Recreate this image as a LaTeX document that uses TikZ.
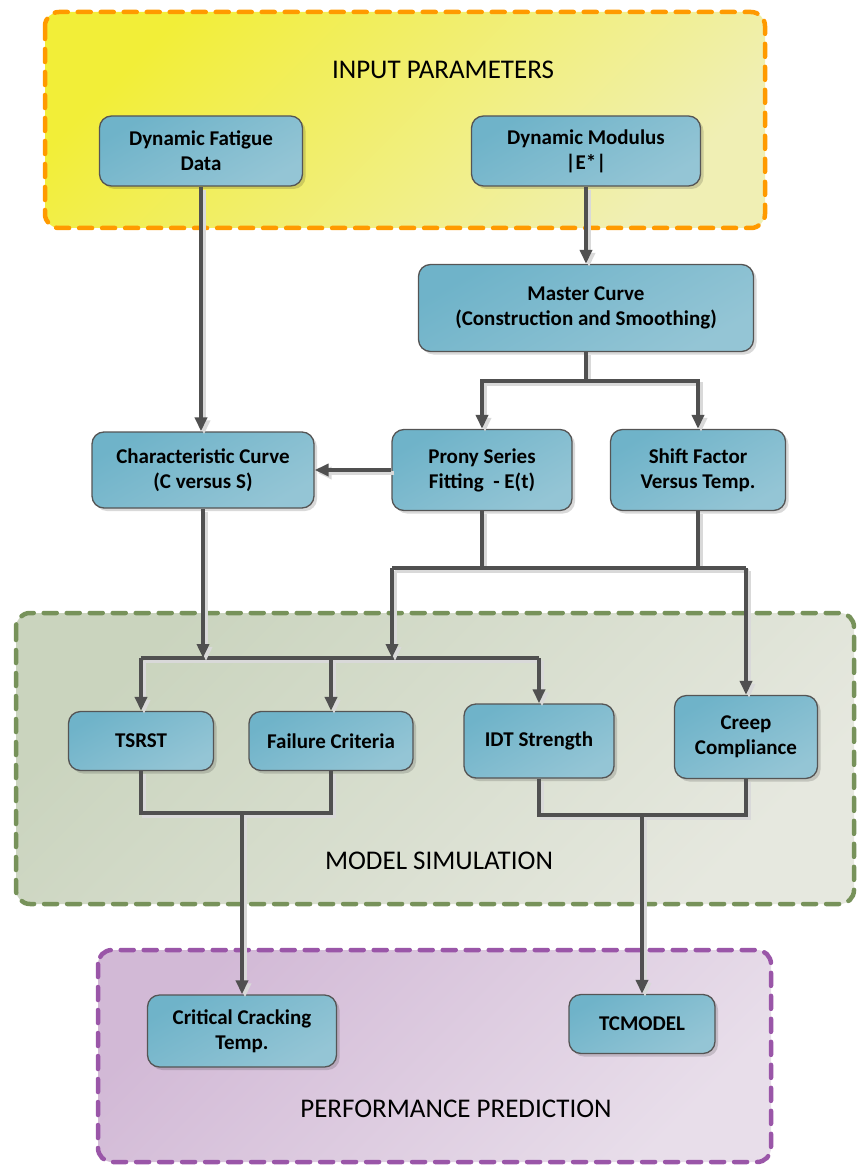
\documentclass[tikz,border=0pt]{standalone}
\usepackage{fontspec}
\setmainfont{Carlito}
\usetikzlibrary{arrows.meta,shadows,calc}
\definecolor{linegray}{HTML}{505050}
\definecolor{boxA}{HTML}{6FB3C9}
\definecolor{boxB}{HTML}{94C5D5}
\definecolor{boxborder}{HTML}{555555}
\definecolor{orangeD}{HTML}{FF9A00}
\definecolor{yelA}{HTML}{F2EE38}
\definecolor{yelB}{HTML}{F0EFB4}
\definecolor{greenD}{HTML}{77925A}
\definecolor{greenA}{HTML}{CAD4BE}
\definecolor{greenB}{HTML}{E6E8DF}
\definecolor{purpD}{HTML}{9A56A8}
\definecolor{purpA}{HTML}{D2B9D6}
\definecolor{purpB}{HTML}{E8DEEA}
\tikzset{
  procbox/.style={rectangle, rounded corners=12pt, draw=boxborder, line width=1.3pt,
    top color=boxA, bottom color=boxB, shading angle=30,
    drop shadow={shadow xshift=3pt, shadow yshift=-3pt, fill=black, opacity=0.15},
    align=center, font=\fontsize{21}{25}\selectfont\bfseries, inner sep=0pt},
  group/.style={rectangle, rounded corners=14pt, line width=4.5pt, dash pattern=on 13pt off 10pt, line cap=round},
  grouptitle/.style={font=\fontsize{27}{31}\selectfont},
  wire/.style={draw=linegray, line width=3.5pt,
    preaction={draw=black!15, line width=3.5pt, transform canvas={xshift=3pt,yshift=-3pt}}},
  conn/.style={wire, -{Triangle[length=14pt,width=12pt]}},
}
\begin{document}
\begin{tikzpicture}[x=1pt,y=-1pt]
\useasboundingbox (0,0) rectangle (856,1166);
% containers
\path[group, draw=orangeD, top color=yelA, bottom color=yelB, shading angle=45] (45,12) rectangle (765,228);
\node[grouptitle] (tin) at (443,70) {INPUT PARAMETERS};
\path[group, draw=greenD, top color=greenA, bottom color=greenB, shading angle=45] (16,613) rectangle (854,904);
\node[grouptitle] (tmod) at (439,861) {MODEL SIMULATION};
\path[group, draw=purpD, top color=purpA, bottom color=purpB, shading angle=45] (98,950) rectangle (771,1162);
\node[grouptitle] (tperf) at (456,1109) {PERFORMANCE PREDICTION};
% boxes
\node[procbox, minimum width=203, minimum height=70] (fat) at (201,151) {Dynamic Fatigue\\Data};
\node[procbox, minimum width=229, minimum height=70] (mod) at (586,151) {Dynamic Modulus\\|E*|};
\node[procbox, minimum width=335, minimum height=87] (master) at (586,308) {Master Curve\\(Construction and Smoothing)};
\node[procbox, minimum width=222, minimum height=76] (char) at (203,470) {Characteristic Curve\\(C versus S)};
\node[procbox, minimum width=180, minimum height=81] (prony) at (482,470) {Prony Series\\Fitting\ \ - E(t)};
\node[procbox, minimum width=175, minimum height=81] (shift) at (698,470) {Shift Factor\\Versus Temp.};
\node[procbox, minimum width=145, minimum height=59] (tsrst) at (141,741) {TSRST};
\node[procbox, minimum width=164, minimum height=59] (fail) at (331,741) {Failure Criteria};
\node[procbox, minimum width=150, minimum height=74] (idt) at (539,741) {IDT Strength};
\node[procbox, minimum width=143, minimum height=83] (creep) at (746,737) {Creep\\Compliance};
\node[procbox, minimum width=189, minimum height=72] (crit) at (242,1031) {Critical Cracking\\Temp.};
\node[procbox, minimum width=146, minimum height=59] (tcm) at (642,1024) {TCMODEL};
% junction coordinates
\coordinate (mj) at (586,381);
\coordinate (pj) at (392,568);
\coordinate (sj) at (746,568);
\coordinate (busL) at (141,658);
\coordinate (busR) at (539,658);
\coordinate (tj) at (242,813);
\coordinate (ij) at (642,815);
% connectors
\draw[conn] (fat.south) -- (fat.south |- char.north);
\draw[conn] (mod.south) -- (master.north);
\draw[wire] (master.south) -- (mj);
\draw[conn] (mj) -| (prony.north);
\draw[conn] (mj) -| (shift.north);
\draw[conn] (prony.west) -- (char.east);
\draw[wire] (prony.south) -- (prony.south |- pj);
\draw[wire] (shift.south) -- (shift.south |- pj);
\draw[wire] (pj) -- (sj);
\draw[conn] (sj) -- (sj |- creep.north);
\draw[wire] (busL) -- (busR);
\draw[conn] (pj) -- (pj |- busL);
\draw[conn] (char.south) -- (char.south |- busL);
\draw[conn] (busL) -- (tsrst.north);
\draw[conn] (fail.north |- busL) -- (fail.north);
\draw[conn] (busR) -- (idt.north);
\draw[wire] (tsrst.south) |- (tj) -| (fail.south);
\draw[conn] (tj) -- (tj |- crit.north);
\draw[wire] (idt.south) |- (ij) -| (creep.south);
\draw[conn] (ij) -- (ij |- tcm.north);
\end{tikzpicture}
\end{document}
